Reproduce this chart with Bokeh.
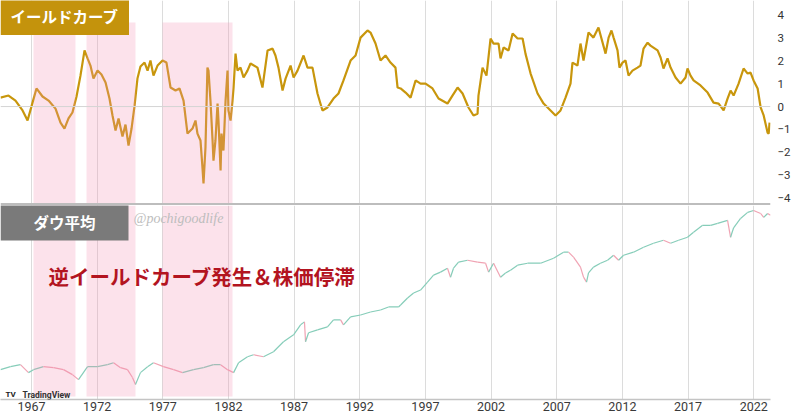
import numpy as np
from bokeh.plotting import figure
from bokeh.models import FixedTicker, Span, Label, Range1d
from bokeh.layouts import column
from bokeh.embed import file_html
from bokeh.resources import INLINE

# ---------------- data ----------------
tick_years = [1967, 1972, 1977, 1982, 1987, 1992, 1997, 2002, 2007, 2012, 2017, 2022]
yc_ticks = [-4, -3, -2, -1, 0, 1, 2, 3, 4]

# inverted-yield-curve periods (shaded)
inv_start = [1967.15, 1971.19, 1976.98]
inv_end = [1970.35, 1974.92, 1982.31]

# yield curve spread (%)
yc_year = [1964.64, 1965.25, 1965.78, 1966.32, 1966.70, 1967.08, 1967.38, 1967.84, 1968.30, 1968.83,
           1969.21, 1969.51, 1969.82, 1970.12, 1970.43, 1970.73, 1971.04, 1971.27, 1971.49, 1971.72,
           1972.03, 1972.33, 1972.64, 1972.94, 1973.17, 1973.40, 1973.63, 1973.93, 1974.16, 1974.39,
           1974.62, 1974.85, 1975.07, 1975.30, 1975.61, 1975.84, 1976.06, 1976.29, 1976.60, 1976.98,
           1977.28, 1977.59, 1977.97, 1978.27, 1978.58, 1978.88, 1979.26, 1979.49, 1979.64, 1979.87,
           1980.02, 1980.10, 1980.25, 1980.40, 1980.48, 1980.63, 1980.79, 1980.86, 1981.01, 1981.17,
           1981.24, 1981.40, 1981.47, 1981.62, 1981.78, 1981.93, 1982.00, 1982.16, 1982.31, 1982.39,
           1982.54, 1982.69, 1982.92, 1983.15, 1983.45, 1983.68, 1984.21, 1984.59, 1984.98, 1985.36,
           1985.58, 1985.81, 1986.12, 1986.35, 1986.73, 1986.96, 1987.26, 1987.72, 1988.02, 1988.40,
           1988.78, 1989.16, 1989.54, 1990.00, 1990.38, 1990.76, 1991.30, 1991.68, 1992.06, 1992.59,
           1992.82, 1993.20, 1993.58, 1993.96, 1994.34, 1994.72, 1994.88, 1995.11, 1995.49, 1995.87,
           1996.25, 1996.63, 1997.01, 1997.54, 1998.00, 1998.68, 1999.06, 1999.45, 1999.83, 2000.28,
           2000.66, 2000.97, 2001.04, 2001.35, 2001.65, 2001.96, 2002.19, 2002.57, 2002.72, 2002.95,
           2003.33, 2003.64, 2004.02, 2004.40, 2004.62, 2005.01, 2005.54, 2006.00, 2006.53, 2006.91,
           2007.29, 2007.67, 2008.05, 2008.20, 2008.58, 2008.81, 2009.04, 2009.42, 2009.80, 2010.18,
           2010.72, 2010.95, 2011.17, 2011.33, 2011.63, 2011.78, 2012.01, 2012.24, 2012.47, 2012.77,
           2013.15, 2013.38, 2013.61, 2013.92, 2014.14, 2014.68, 2014.91, 2015.13, 2015.44, 2015.67,
           2016.05, 2016.43, 2016.81, 2016.96, 2017.19, 2017.42, 2017.95, 2018.49, 2018.94, 2019.33,
           2019.71, 2020.01, 2020.24, 2020.47, 2020.85, 2021.23, 2021.54, 2021.76, 2021.99, 2022.30,
           2022.53, 2022.76, 2023.06, 2023.14, 2023.21]
yc_value = [0.39, 0.48, 0.26, -0.17, -0.61, 0.17, 0.79, 0.44, 0.26, -0.09,
            -0.70, -0.96, -0.52, -0.26, 0.44, 1.35, 2.45, 2.10, 1.79, 1.22,
            1.57, 1.40, 1.05, 0.35, -0.39, -1.05, -0.52, -1.31, -0.79, -1.70,
            -0.96, 0.04, 1.22, 1.75, 1.92, 1.57, 2.01, 1.35, 1.79, 2.01,
            1.92, 0.83, 0.70, 0.79, 0.26, -1.18, -0.96, -0.61, -1.18, -1.48,
            -2.66, -3.36, -1.79, 1.70, 1.57, 0.26, -1.48, -2.36, -1.48, 0.13,
            -0.61, -2.79, -1.18, -1.92, 0.26, 1.57, -0.17, -0.61, 0.26, 0.83,
            2.31, 1.57, 1.70, 1.27, 1.57, 1.88, 1.70, 0.83, 2.45, 2.53,
            2.23, 1.70, 0.70, 1.22, 1.79, 1.27, 1.57, 2.23, 1.70, 1.70,
            0.57, -0.17, -0.04, 0.35, 0.57, 1.14, 2.01, 2.23, 3.01, 3.32,
            3.23, 2.75, 2.01, 2.23, 1.92, 1.70, 0.83, 0.79, 0.61, 0.39,
            1.14, 1.00, 1.00, 0.79, 0.35, 0.13, 0.48, 0.83, 0.57, -0.04,
            -0.39, -0.31, 0.48, 1.70, 1.35, 2.97, 2.75, 2.75, 2.10, 2.58,
            2.45, 3.19, 2.97, 2.97, 2.31, 1.44, 0.57, 0.13, -0.17, -0.39,
            -0.17, 0.39, 1.00, 1.92, 1.79, 2.75, 2.01, 3.23, 3.01, 3.45,
            2.31, 3.01, 3.32, 3.01, 2.45, 1.70, 1.92, 2.01, 1.35, 1.57,
            1.70, 1.79, 2.53, 2.79, 2.66, 2.45, 2.14, 1.66, 2.10, 1.70,
            1.27, 1.00, 1.27, 1.66, 1.35, 1.14, 0.92, 0.61, 0.17, 0.13,
            -0.17, 0.35, 0.70, 0.48, 1.00, 1.66, 1.44, 1.48, 1.14, 0.79,
            -0.04, -0.39, -1.14, -1.18, -0.70]

# Dow Jones Industrial Average (log scale)
dow_year = [1964.64, 1965.40, 1966.16, 1966.77, 1967.15, 1967.91, 1968.68, 1969.44, 1970.12, 1970.58,
            1971.27, 1972.03, 1972.79, 1973.25, 1973.78, 1974.31, 1974.69, 1974.92, 1975.30, 1975.84,
            1976.29, 1977.05, 1977.82, 1978.50, 1979.34, 1980.10, 1980.86, 1981.40, 1981.93, 1982.39,
            1982.77, 1983.45, 1983.91, 1984.67, 1985.43, 1986.19, 1986.96, 1987.49, 1987.79, 1987.87,
            1988.10, 1988.78, 1989.54, 1990.00, 1990.54, 1990.76, 1991.30, 1992.06, 1992.82, 1993.58,
            1994.19, 1994.95, 1995.11, 1995.64, 1996.10, 1996.63, 1997.16, 1997.62, 1998.15, 1998.68,
            1998.91, 1999.14, 1999.52, 2000.21, 2000.97, 2001.58, 2001.81, 2002.19, 2002.72, 2003.10,
            2003.48, 2004.02, 2004.78, 2005.77, 2006.76, 2007.52, 2007.90, 2008.28, 2008.81, 2009.04,
            2009.27, 2009.42, 2009.80, 2010.33, 2010.87, 2011.33, 2011.71, 2012.09, 2012.85, 2013.61,
            2014.37, 2015.13, 2015.67, 2016.28, 2016.96, 2017.42, 2018.11, 2018.72, 2019.25, 2020.01,
            2020.24, 2020.47, 2021.00, 2021.54, 2021.99, 2022.53, 2022.76, 2023.06, 2023.28]
dow_value = [900, 964, 1010, 840, 900, 964, 942, 900, 802, 715,
             964, 964, 1010, 1057, 942, 900, 750, 637, 840, 964,
             1057, 964, 900, 840, 900, 942, 1010, 1010, 900, 840,
             1057, 1214, 1271, 1214, 1362, 1715, 2015, 2539, 2720, 1715,
             2113, 2260, 2420, 2846, 2846, 2539, 3050, 3190, 3420, 3580,
             3840, 3840, 4020, 4730, 5300, 5680, 6830, 8020, 8600, 9420,
             7650, 9420, 10820, 11330, 10820, 10570, 8600, 10570, 7650, 8440,
             9000, 10100, 10570, 10570, 11860, 13650, 13650, 12160, 9660, 7650,
             6830, 8440, 9660, 10570, 11330, 12710, 11330, 12710, 13650, 15300,
             16790, 17980, 16790, 17980, 19270, 21620, 25400, 25400, 26600, 28460,
             19270, 24000, 29800, 34300, 35800, 33400, 30500, 33400, 32000]

# ---------------- layout ----------------
X0, X1 = 1964.64, 2023.28
FW = 770
TOP_FH = 205
BOT_FH = 194
YC_LO, YC_HI = -4.32, 4.63
DOW_LO, DOW_HI = 451, 40200

GOLD = "#c8960c"
PINK = "#f48fb1"
GRID = "#dcdcdc"
JP = "Noto Sans CJK JP"

top = figure(frame_width=FW, frame_height=TOP_FH, x_range=Range1d(X0, X1), y_range=Range1d(YC_LO, YC_HI),
             output_backend="svg", toolbar_location=None, x_axis_location=None,
             y_axis_location="right", min_border_left=0, min_border_right=30,
             min_border_top=0, min_border_bottom=0)
top.outline_line_color = None
top.xgrid.ticker = FixedTicker(ticks=tick_years)
top.xgrid.grid_line_color = GRID
top.ygrid.visible = False
ya = top.yaxis[0]
ya.ticker = FixedTicker(ticks=yc_ticks)
ya.axis_line_color = None
ya.major_tick_line_color = None
ya.minor_tick_line_color = None
ya.major_tick_out = 0
ya.major_label_standoff = 7
ya.major_label_text_font = "Roboto"
ya.major_label_text_font_size = "11.5px"
ya.major_label_text_color = "#333333"

top.add_layout(Span(location=0, dimension="width", line_color="#d4d4d4", line_width=1))
top.line(yc_year, yc_value, line_color=GOLD, line_width=2.2)
top.quad(left=inv_start, right=inv_end, bottom=YC_LO, top=3.67,
         fill_color=PINK, fill_alpha=0.26, line_color=None)
top.add_layout(Span(location=YC_LO + 0.06, dimension="width", line_color="#bdbdbd", line_width=2.5))

top.add_layout(Label(x=0, y=TOP_FH - 15.5, x_units="screen", y_units="screen", text="イールドカーブ",
                     text_baseline="middle", text_align="left", text_font=JP, text_font_size="15.5px",
                     text_font_style="bold", text_color="white",
                     background_fill_color="#c4930c", background_fill_alpha=1.0,
                     padding=dict(left=10, right=10, top=8, bottom=8)))

bot = figure(frame_width=FW, frame_height=BOT_FH, x_range=top.x_range, y_range=Range1d(DOW_LO, DOW_HI),
             y_axis_type="log", output_backend="svg", toolbar_location=None,
             y_axis_location=None, min_border_left=0, min_border_right=30,
             min_border_top=0, min_border_bottom=0)
bot.outline_line_color = None
bot.xgrid.ticker = FixedTicker(ticks=tick_years)
bot.xgrid.grid_line_color = GRID
bot.ygrid.visible = False
xa = bot.xaxis[0]
xa.ticker = FixedTicker(ticks=tick_years)
xa.axis_line_color = "#c4c4c4"
xa.axis_line_width = 1.5
xa.major_tick_line_color = None
xa.minor_tick_line_color = None
xa.major_tick_out = 0
xa.major_tick_in = 0
xa.major_label_standoff = 2
xa.major_label_text_font = "Roboto"
xa.major_label_text_font_size = "12.5px"
xa.major_label_text_color = "#3a3a3a"

dy = np.array(dow_year, dtype=float)
dv = np.array(dow_value, dtype=float)
seg_colors = np.where(np.diff(dv) >= 0, "#86cdb9", "#f0a3b3").tolist()
bot.segment(x0=dy[:-1], y0=dv[:-1], x1=dy[1:], y1=dv[1:], line_color=seg_colors, line_width=1.2)
bot.quad(left=inv_start, right=inv_end, bottom=483, top=DOW_HI,
         fill_color=PINK, fill_alpha=0.26, line_color=None)

bot.add_layout(Label(x=0, y=BOT_FH - 16, x_units="screen", y_units="screen", text="ダウ平均",
                     text_baseline="middle", text_align="left", text_font=JP, text_font_size="15.5px",
                     text_font_style="bold", text_color="white",
                     background_fill_color="#7a7a7a", background_fill_alpha=1.0,
                     padding=dict(left=33, right=33, top=8, bottom=8)))
bot.add_layout(Label(x=133, y=BOT_FH - 13, x_units="screen", y_units="screen", text="@pochigoodlife",
                     text_baseline="middle", text_align="left", text_font="Liberation Serif",
                     text_font_size="14px", text_font_style="italic", text_color="#bdbdbd"))
bot.add_layout(Label(x=48, y=BOT_FH - 70, x_units="screen", y_units="screen",
                     text="逆イールドカーブ発生＆株価停滞",
                     text_baseline="middle", text_align="left", text_font=JP, text_font_size="20.5px",
                     text_font_style="bold", text_color="#b3141f"))
bot.add_layout(Label(x=5, y=5, x_units="screen", y_units="screen", text="TV",
                     text_baseline="middle", text_align="left", text_font="Roboto",
                     text_font_size="8px", text_font_style="bold", text_color="#222222"))
bot.add_layout(Label(x=22, y=5, x_units="screen", y_units="screen", text="TradingView",
                     text_baseline="middle", text_align="left", text_font="Roboto",
                     text_font_size="8.5px", text_font_style="bold", text_color="#333333"))

layout = column(top, bot, spacing=0)
open("out.html", "w").write(file_html(layout, INLINE))
